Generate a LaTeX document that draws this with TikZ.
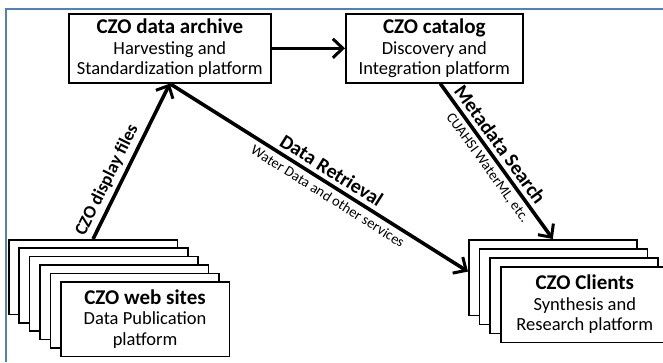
\documentclass[tikz,border=0pt]{standalone}
\usepackage{fontspec}
\setmainfont{Carlito}
\usetikzlibrary{arrows.meta}
\definecolor{frameblue}{RGB}{79,129,189}
\newcommand{\boxtitle}[1]{{\fontsize{21}{22}\selectfont\bfseries #1}}
\begin{document}
\begin{tikzpicture}[x=1pt,y=-1pt,
  box/.style={draw=black,line width=1.6pt,fill=white,anchor=north west,inner sep=0pt,
    align=center,font=\fontsize{18.5}{20.5}\selectfont},
  archbox/.style={box,minimum width=202pt,minimum height=69pt},
  catbox/.style={box,minimum width=177pt,minimum height=69pt},
  webbox/.style={box,minimum width=168.5pt,minimum height=74.5pt},
  clibox/.style={box,minimum width=168pt,minimum height=75.5pt},
  conn/.style={line width=3.6pt,-{Straight Barb[length=10pt,width=19pt,line width=3pt]}},
  lbl/.style={font=\fontsize{20}{20}\selectfont\bfseries,sloped,inner sep=4pt},
  sublbl/.style={font=\fontsize{14.5}{14.5}\selectfont,sloped,inner sep=4pt}
]
\useasboundingbox (0,0) rectangle (663,362);
\draw[frameblue,line width=2pt] (6,362) -- (6,9) -- (663,9);

\node[archbox] (arch) at (68,13) {\boxtitle{CZO data archive}\\Harvesting and\\Standardization platform};
\node[catbox] (cat) at (345,13) {\boxtitle{CZO catalog}\\Discovery and\\Integration platform};

\foreach \i in {0,...,4}
  \node[webbox] (ws\i) at ({8+10.4*\i},{239+8.4*\i}) {};
\node[webbox] (ws5) at (60,281) {\boxtitle{CZO web sites}\\Data Publication\\platform};

\foreach \i in {0,...,2}
  \node[clibox] (cl\i) at ({468+10.7*\i},{239+9*\i}) {};
\node[clibox] (cl3) at (500,266) {\boxtitle{CZO Clients}\\Synthesis and\\Research platform};

\draw[conn] (arch.east) -- (cat.west);
\draw[conn] (ws0.north) -- (arch.south)
  node[lbl,above,pos=0.34,font=\fontsize{18}{18}\selectfont\bfseries] {CZO display files};
\draw[conn] (arch.south) -- ([yshift=6pt]cl0.west)
  node[lbl,above,pos=0.52] {Data Retrieval}
  node[sublbl,below,pos=0.55] {Water Data and other services};
\draw[conn] ([xshift=6pt]cat.south) -- (cl0.north)
  node[lbl,above,pos=0.44] {Metadata Search}
  node[sublbl,below,pos=0.5] {CUAHSI WaterML, etc.};
\end{tikzpicture}
\end{document}
